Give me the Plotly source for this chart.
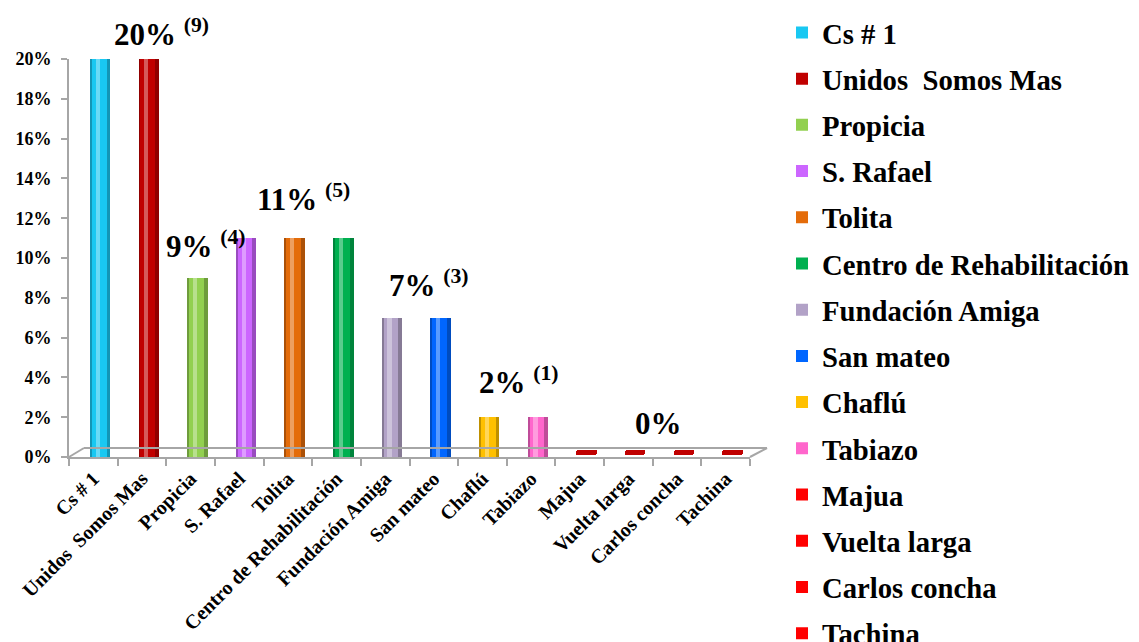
import plotly.graph_objects as go

# categories and values (percent of total cases)
categories = ["Cs # 1", "Unidos\u00a0 Somos Mas", "Propicia", "S. Rafael", "Tolita",
              "Centro de Rehabilitación", "Fundación Amiga", "San mateo", "Chaflú",
              "Tabiazo", "Majua", "Vuelta larga", "Carlos concha", "Tachina"]
percent = [20, 20, 9, 11, 11, 11, 7, 7, 2, 2, 0, 0, 0, 0]
colors = ["#19C8F2", "#C00000", "#92D050", "#CC66FF", "#E46C0A", "#00B050",
          "#B2A2C7", "#0066FF", "#FFC000", "#FF66CC", "#FF0000", "#FF0000",
          "#FF0000", "#FF0000"]

# value labels: text, count, x position (category index), value they sit on (%)
label_pct = ["20%", "9%", "11%", "7%", "2%", "0%"]
label_count = ["9", "4", "5", "3", "1", ""]
label_x = [1.40, 2.31, 4.32, 6.90, 8.75, 11.62]
label_val = [20, 9, 11, 7, 2, 0]
label_dy = [27, 33, 41, 34, 37, 34]

FONT = "Times New Roman, Liberation Serif, serif"
GRID = "#A6A6A6"
W = 0.42
SHIFT = 0.14


def mix(h, other, t):
    a = [int(h.lstrip('#')[i:i+2], 16) for i in (0, 2, 4)]
    b = [int(other.lstrip('#')[i:i+2], 16) for i in (0, 2, 4)]
    return 'rgb(%d,%d,%d)' % tuple(round(x + (y - x) * t) for x, y in zip(a, b))


bar_cols = [c if c != "#FF0000" else "#C00000" for c in colors]

fig = go.Figure()

# dark rim of the cylinders
fig.add_trace(go.Bar(x=categories, y=percent, width=W, offset=-W / 2 + SHIFT,
                     marker=dict(color=[mix(c, "#000000", 0.25) for c in bar_cols], line_width=0),
                     showlegend=False, hoverinfo='skip'))

# one trace per category for the legend
for cat, val, col, bcol in zip(categories, percent, colors, bar_cols):
    fig.add_trace(go.Bar(x=[cat], y=[val], name=cat, legendgroup=cat, width=W * 0.72,
                         offset=-W * 0.36 + SHIFT - 0.02,
                         marker=dict(color=col, line_width=0)))

# highlight stripe
fig.add_trace(go.Bar(x=categories, y=percent, width=W * 0.2, offset=-W * 0.22 + SHIFT,
                     marker=dict(color=[mix(c, "#FFFFFF", 0.35) for c in bar_cols], line_width=0),
                     showlegend=False, hoverinfo='skip'))

# flat discs for zero values
zero_cats = [c for c, v in zip(categories, percent) if v == 0]
fig.add_trace(go.Bar(x=zero_cats, y=[0.25] * len(zero_cats), base=0.08, width=W,
                     offset=-W / 2 + SHIFT,
                     marker=dict(color="#C00000", line_width=0, cornerradius=3),
                     showlegend=False, hoverinfo='skip'))

for txt, cnt, lx, lv, dy in zip(label_pct, label_count, label_x, label_val, label_dy):
    t = txt if not cnt else "%s <sup>(%s)</sup>" % (txt, cnt)
    fig.add_annotation(x=lx, y=lv, yshift=dy, text=t, showarrow=False,
                       font=dict(family=FONT, size=31, color="black", weight="bold"))

# 3d floor outline
floor = [(0.0, 0.0, 0.022, 0.0226), (0.022, 0.0226, 1.025, 0.0226), (1.025, 0.0226, 1.0, 0.0)]
for x0, y0, x1, y1 in floor:
    fig.add_shape(type="line", xref="paper", yref="paper", x0=x0, y0=y0, x1=x1, y1=y1,
                  line=dict(color=GRID, width=2))

# the page adds an 8px body margin, size and margins below account for it
fig.update_layout(
    width=1131, height=634,
    barmode='overlay',
    bargap=0,
    plot_bgcolor='white', paper_bgcolor='white',
    margin=dict(l=61, r=389, t=51, b=185, autoexpand=False),
    font=dict(family=FONT, color="black", weight="bold"),
    legend=dict(x=1.047, xanchor='left', y=1.13, yanchor='top',
                font=dict(size=28.7, family=FONT, weight="bold"),
                tracegroupgap=5.9, traceorder='grouped', maxheight=800,
                itemclick=False),
    showlegend=True,
)
fig.update_xaxes(type='category', showline=True, linecolor=GRID, linewidth=2,
                 ticks='outside', tickson='boundaries', ticklen=7, tickcolor=GRID,
                 tickwidth=2, tickangle=-45, tickfont=dict(size=20),
                 showgrid=False, automargin=False, range=[-0.5, len(categories) - 0.5])
fig.update_yaxes(range=[0, 20], dtick=2, ticksuffix='%', showline=True, linecolor=GRID,
                 linewidth=2, ticks='outside', ticklen=6, tickcolor=GRID, tickwidth=2,
                 tickfont=dict(size=18), showgrid=False, zeroline=False,
                 ticklabelstandoff=6, automargin=False)
fig.update_traces(cliponaxis=False, selector=dict(type='bar'))

fig.write_html("out.html")
